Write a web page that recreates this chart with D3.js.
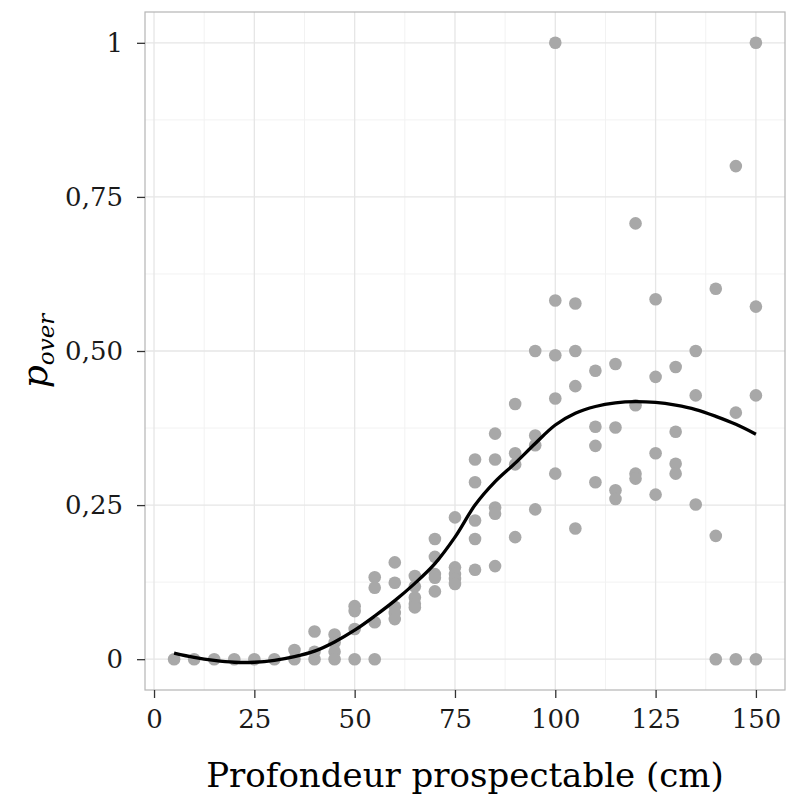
<!DOCTYPE html>
<html>
<head>
<meta charset="utf-8">
<script src="https://cdn.jsdelivr.net/npm/d3@7"></script>
<style>
  body { margin: 0; background: #fff; }
  text { font-family: "DejaVu Serif", serif; }
</style>
</head>
<body>
<div id="chart"></div>
<script>
// depth (cm) and observed p_over, one entry per point
const depthValues = [
  5, 10, 15, 20, 25, 30,
  35, 35,
  40, 40, 40,
  45, 45, 45, 45,
  50, 50, 50, 50,
  55, 55, 55, 55,
  60, 60, 60, 60, 60,
  65, 65, 65, 65, 65,
  70, 70, 70, 70, 70,
  75, 75, 75, 75, 75,
  80, 80, 80, 80, 80,
  85, 85, 85, 85, 85,
  90, 90, 90, 90,
  95, 95, 95, 95,
  100, 100, 100, 100, 100,
  105, 105, 105, 105,
  110, 110, 110, 110,
  115, 115, 115, 115,
  120, 120, 120, 120,
  125, 125, 125, 125,
  130, 130, 130, 130,
  135, 135, 135,
  140, 140, 140,
  145, 145, 145,
  150, 150, 150, 150
];
const pOverValues = [
  0, 0, 0, 0, 0, 0,
  0, 0.015,
  0.045, 0.012, 0,
  0.04, 0.027, 0.012, 0,
  0.086, 0.078, 0.049, 0,
  0.133, 0.116, 0.06, 0,
  0.157, 0.124, 0.085, 0.075, 0.065,
  0.135, 0.118, 0.1, 0.09, 0.084,
  0.195, 0.166, 0.138, 0.132, 0.11,
  0.23, 0.149, 0.138, 0.13, 0.122,
  0.324, 0.287, 0.225, 0.195, 0.145,
  0.366, 0.324, 0.246, 0.236, 0.151,
  0.414, 0.334, 0.316, 0.198,
  0.5, 0.363, 0.347, 0.243,
  1, 0.582, 0.493, 0.423, 0.301,
  0.577, 0.5, 0.443, 0.212,
  0.468, 0.377, 0.346, 0.287,
  0.479, 0.376, 0.274, 0.26,
  0.707, 0.412, 0.301, 0.293,
  0.584, 0.458, 0.334, 0.267,
  0.474, 0.369, 0.317, 0.301,
  0.5, 0.428, 0.251,
  0.601, 0.2, 0,
  0.8, 0.4, 0,
  1, 0.572, 0.428, 0
];

// smoothed trend
const smoothX = [5, 10, 15, 20, 25, 30, 35, 40, 45, 50, 55, 60, 65, 70, 75,
  80, 85, 90, 95, 100, 105, 110, 115, 120, 125, 130, 135, 140, 145, 150];
const smoothY = [0.010, 0.003, -0.002, -0.005, -0.005, -0.002, 0.004, 0.013, 0.028, 0.047,
  0.07, 0.095, 0.123, 0.155, 0.198, 0.250, 0.288, 0.318, 0.350, 0.380,
  0.399, 0.410, 0.416, 0.418, 0.4165, 0.412, 0.405, 0.394, 0.381, 0.365];

const xTicks = [0, 25, 50, 75, 100, 125, 150];
const yTicks = [0, 0.25, 0.5, 0.75, 1];
const yTickLabels = ["0", "0,25", "0,50", "0,75", "1"];

const W = 787, H = 798;
const margin = { top: 12, right: 2, bottom: 108, left: 145 };
const width = W - margin.left - margin.right;
const height = H - margin.top - margin.bottom;

const svg = d3.select("#chart")
  .append("svg")
  .attr("width", W)
  .attr("height", H);

const g = svg.append("g")
  .attr("transform", "translate(" + margin.left + "," + margin.top + ")");

// ggplot style 5% expansion
const x = d3.scaleLinear().domain([-2.25, 157.25]).range([0, width]);
const y = d3.scaleLinear().domain([-0.05, 1.05]).range([height, 0]);

// minor grid
const xMinor = [12.5, 37.5, 62.5, 87.5, 112.5, 137.5];
const yMinor = [0.125, 0.375, 0.625, 0.875];
g.selectAll(".xminor").data(xMinor).enter().append("line")
  .attr("x1", d => x(d)).attr("x2", d => x(d))
  .attr("y1", 0).attr("y2", height)
  .attr("stroke", "#f2f2f2").attr("stroke-width", 1);
g.selectAll(".yminor").data(yMinor).enter().append("line")
  .attr("y1", d => y(d)).attr("y2", d => y(d))
  .attr("x1", 0).attr("x2", width)
  .attr("stroke", "#f2f2f2").attr("stroke-width", 1);

// major grid
g.selectAll(".xmajor").data(xTicks).enter().append("line")
  .attr("x1", d => x(d)).attr("x2", d => x(d))
  .attr("y1", 0).attr("y2", height)
  .attr("stroke", "#e6e6e6").attr("stroke-width", 1.3);
g.selectAll(".ymajor").data(yTicks).enter().append("line")
  .attr("y1", d => y(d)).attr("y2", d => y(d))
  .attr("x1", 0).attr("x2", width)
  .attr("stroke", "#e6e6e6").attr("stroke-width", 1.3);

// points
g.selectAll(".pt").data(depthValues).enter().append("circle")
  .attr("cx", d => x(d))
  .attr("cy", (d, i) => y(pOverValues[i]))
  .attr("r", 6.3)
  .attr("fill", "#a8a8a8");

// smooth line
const line = d3.line()
  .x(d => x(d[0]))
  .y(d => y(d[1]))
  .curve(d3.curveCatmullRom);
g.append("path")
  .datum(smoothX.map((v, i) => [v, smoothY[i]]))
  .attr("fill", "none")
  .attr("stroke", "#000")
  .attr("stroke-width", 3.3)
  .attr("d", line);

// panel border
g.append("rect")
  .attr("width", width).attr("height", height)
  .attr("fill", "none")
  .attr("stroke", "#b5b5b5")
  .attr("stroke-width", 1.2);

// axes
const xAxis = g.append("g")
  .attr("transform", "translate(0," + height + ")")
  .call(d3.axisBottom(x).tickValues(xTicks).tickSize(8).tickPadding(12));
const yAxis = g.append("g")
  .call(d3.axisLeft(y).tickValues(yTicks).tickSize(8).tickPadding(14)
    .tickFormat((d, i) => yTickLabels[i]));

[xAxis, yAxis].forEach(a => {
  a.select(".domain").remove();
  a.selectAll(".tick line").attr("stroke", "#333").attr("stroke-width", 1.3);
  a.selectAll(".tick text")
    .style("font-family", "DejaVu Serif, serif")
    .style("font-size", "26px")
    .attr("fill", "#1a1a1a");
});

// x title
svg.append("text")
  .attr("x", 465)
  .attr("y", 787)
  .attr("text-anchor", "middle")
  .style("font-size", "34px")
  .attr("fill", "#000")
  .text("Profondeur prospectable (cm)");

// y title p_over
const yTitle = svg.append("text")
  .attr("transform", "translate(47," + (margin.top + height / 2) + ") rotate(-90)")
  .attr("text-anchor", "middle")
  .style("font-style", "italic")
  .attr("fill", "#000");
yTitle.append("tspan").style("font-size", "36px").text("p");
yTitle.append("tspan").style("font-size", "23px").attr("dy", 7).text("over");
</script>
</body>
</html>
